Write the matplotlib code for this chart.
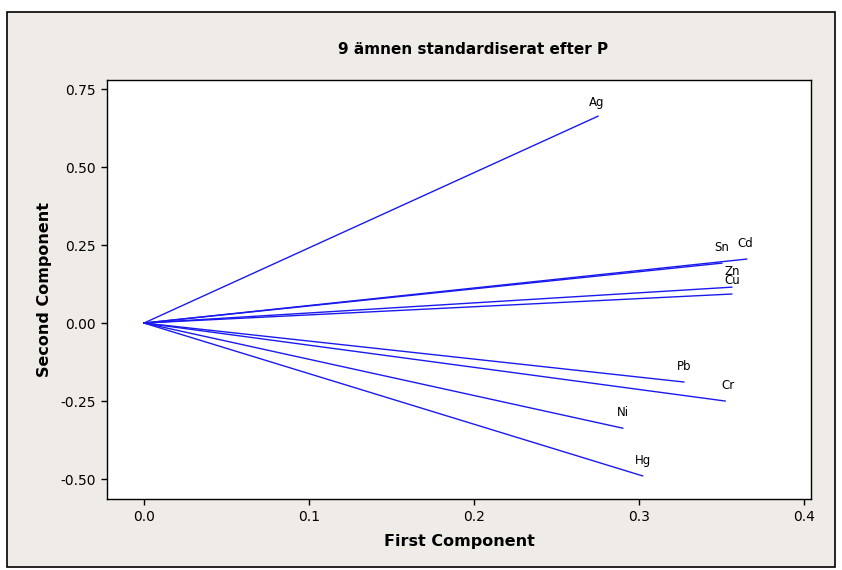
# Loading plot: first vs second principal component, 9 elements

import matplotlib.pyplot as plt
from matplotlib.patches import Rectangle

# Data
elements = ['Ag', 'Cd', 'Sn', 'Zn', 'Cu', 'Pb', 'Cr', 'Ni', 'Hg']
first = [0.275, 0.365, 0.350, 0.356, 0.356, 0.327, 0.352, 0.290, 0.302]
second = [0.663, 0.205, 0.192, 0.115, 0.093, -0.189, -0.250, -0.337, -0.490]
# label offsets in points (dx, dy)
offsets = [(-1, 10), (-1, 11), (0, 11), (0, 11), (0, 10), (0, 11), (2, 11), (0, 11), (0, 11)]

xticks = [0.0, 0.1, 0.2, 0.3, 0.4]
yticks = [-0.50, -0.25, 0.00, 0.25, 0.50, 0.75]

bg = '#efebe6'
blue = '#1a1aee'

fig = plt.figure(figsize=(8.42, 5.70), dpi=100, facecolor='white')
# beige panel with black frame, behind the axes
fig.add_artist(Rectangle((7 / 842, 3 / 570), 828 / 842, 555 / 570,
                         transform=fig.transFigure, facecolor=bg,
                         edgecolor='black', linewidth=1.2, zorder=-5))

ax = fig.add_axes([107 / 842, 1 - 499 / 570, 704 / 842, 419 / 570])
ax.set_facecolor('white')

for name, x, y, (dx, dy) in zip(elements, first, second, offsets):
    ax.plot([0, x], [0, y], color=blue, linewidth=1.0)
    ax.annotate(name, (x, y), xytext=(dx, dy), textcoords='offset points',
                ha='center', va='center', fontsize=8.5, color='black')

ax.set_xlim(-0.0224, 0.404)
ax.set_ylim(-0.564, 0.779)
ax.set_xticks(xticks)
ax.set_xticklabels([f'{t:.1f}' for t in xticks])
ax.set_yticks(yticks)
ax.set_yticklabels([f'{t:.2f}' for t in yticks])
ax.tick_params(direction='out', length=4, width=1, labelsize=10, pad=4)
for s in ax.spines.values():
    s.set_linewidth(1.0)

ax.set_xlabel('First Component', fontsize=11.5, fontweight='bold', labelpad=7)
ax.set_ylabel('Second Component', fontsize=11.5, fontweight='bold', labelpad=6)
fig.text(473 / 842, 1 - 50 / 570, '9 ämnen standardiserat efter P',
         ha='center', va='center', fontsize=11, fontweight='bold')

plt.savefig('out.png', dpi=100, facecolor='white')
